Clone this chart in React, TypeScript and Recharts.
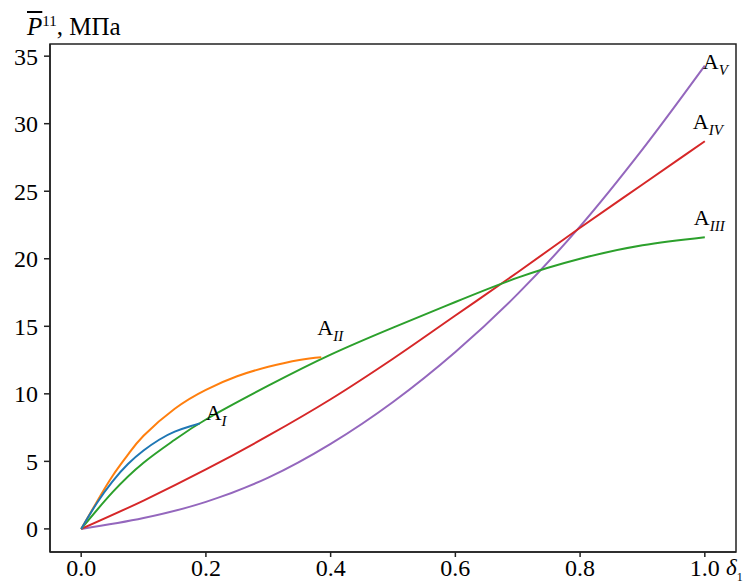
import React from 'react';
import { LineChart, Line, XAxis, YAxis, ReferenceArea } from 'recharts';

const xTicks = [0, 0.2, 0.4, 0.6, 0.8, 1.0];
const yTicks = [0, 5, 10, 15, 20, 25, 30, 35];

const blueX = [0, 0.025, 0.05, 0.075, 0.1, 0.125, 0.15, 0.175, 0.19];
const blueY = [0, 1.9, 3.5, 4.8, 5.8, 6.6, 7.2, 7.6, 7.8];

const orangeX = [0, 0.025, 0.05, 0.075, 0.1, 0.15, 0.2, 0.25, 0.3, 0.35, 0.385];
const orangeY = [0, 2.0, 3.9, 5.5, 6.9, 8.9, 10.3, 11.3, 12.0, 12.5, 12.7];

const greenX = [0, 0.05, 0.1, 0.15, 0.2, 0.3, 0.4, 0.5, 0.6, 0.7, 0.8, 0.9, 1.0];
const greenY = [0, 2.7, 4.9, 6.6, 8.1, 10.6, 12.9, 14.9, 16.8, 18.6, 20.0, 21.0, 21.6];

const redX = [0, 0.1, 0.2, 0.3, 0.4, 0.5, 0.6, 0.7, 0.8, 0.9, 1.0];
const redY = [0, 2.1, 4.4, 6.9, 9.6, 12.6, 15.8, 19.0, 22.3, 25.5, 28.7];

const purpleX = [0, 0.1, 0.2, 0.3, 0.4, 0.5, 0.6, 0.7, 0.8, 0.9, 1.0];
const purpleY = [0, 0.8, 2.0, 3.8, 6.3, 9.4, 13.1, 17.4, 22.4, 28.1, 34.3];

const xDomain = [-0.05, 1.05];
const yDomain = [-1.71, 35.9];

const zip = (xs: number[], ys: number[]) => xs.map((x, i) => ({ x, y: ys[i] }));

const serif = '"Liberation Serif", Tinos, "Times New Roman", "DejaVu Serif", serif';

// curve end label: "A" with an italic roman-numeral subscript
const endLabel = (sub: string, last: number, dx: number, dy: number) => (props: any) => {
    if (props.index !== last) return <g key={`l-${props.index}`} />;
    return (
        <text key={`l-${props.index}`} x={props.x + dx} y={props.y + dy} fontFamily={serif} fontSize={22} fill="#000">
            A
            <tspan fontStyle="italic" fontSize={15} dy={6}>{sub}</tspan>
        </text>
    );
};

const tickStyle = { fill: '#000', fontSize: 24, fontFamily: serif };

const App: React.FC = () => {
    return (
        <div style={{ position: 'absolute', left: 0, top: 0, width: 751, height: 583, background: '#fff', overflow: 'hidden' }}>
            <LineChart width={751} height={583} margin={{ top: 44, right: 15, bottom: 0, left: 0 }}>
                <XAxis
                    dataKey="x"
                    type="number"
                    domain={xDomain}
                    ticks={xTicks}
                    tickFormatter={(v: number) => v.toFixed(1)}
                    height={31}
                    tick={tickStyle}
                    tickSize={5}
                    tickMargin={2}
                    stroke="#222"
                    strokeWidth={1.5}
                    allowDataOverflow
                />
                <YAxis
                    type="number"
                    domain={yDomain}
                    ticks={yTicks}
                    width={50}
                    tick={tickStyle}
                    tickSize={6}
                    tickMargin={6}
                    stroke="#222"
                    strokeWidth={1.5}
                    allowDataOverflow
                />
                {/* box frame like matplotlib's spines */}
                <ReferenceArea x1={xDomain[0]} x2={xDomain[1]} y1={yDomain[0]} y2={yDomain[1]} fill="none" fillOpacity={0} stroke="#222" strokeWidth={1.5} ifOverflow="visible" />
                <Line data={zip(purpleX, purpleY)} dataKey="y" type="monotone" stroke="#9467bd" strokeWidth={2} dot={false} isAnimationActive={false} label={endLabel('V', purpleX.length - 1, -2, 3)} />
                <Line data={zip(redX, redY)} dataKey="y" type="monotone" stroke="#d62728" strokeWidth={2} dot={false} isAnimationActive={false} label={endLabel('IV', redX.length - 1, -12, -12)} />
                <Line data={zip(greenX, greenY)} dataKey="y" type="natural" stroke="#2ca02c" strokeWidth={2} dot={false} isAnimationActive={false} label={endLabel('III', greenX.length - 1, -11, -12)} />
                <Line data={zip(orangeX, orangeY)} dataKey="y" type="natural" stroke="#ff7f0e" strokeWidth={2} dot={false} isAnimationActive={false} label={endLabel('II', orangeX.length - 1, -4, -22)} />
                <Line data={zip(blueX, blueY)} dataKey="y" type="natural" stroke="#1f77b4" strokeWidth={2} dot={false} isAnimationActive={false} label={endLabel('I', blueX.length - 1, 6, -4)} />
            </LineChart>
            <div style={{ position: 'absolute', left: 27, top: 6, fontFamily: serif, fontSize: 25, lineHeight: '30px', whiteSpace: 'nowrap' }}>
                <span style={{ fontStyle: 'italic', textDecoration: 'overline' }}>P</span>
                <sup style={{ fontSize: 15 }}>11</sup>, МПа
            </div>
            <div style={{ position: 'absolute', left: 726, top: 554, fontFamily: serif, fontSize: 23, lineHeight: '28px', whiteSpace: 'nowrap' }}>
                <span style={{ fontStyle: 'italic' }}>δ</span>
                <sub style={{ fontSize: 12 }}>1</sub>
            </div>
        </div>
    );
};

export default App;
